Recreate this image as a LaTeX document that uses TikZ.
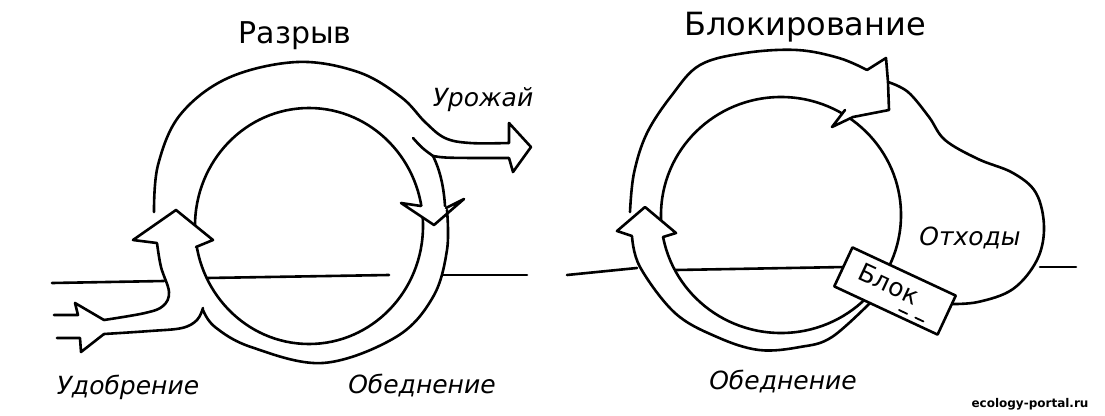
\documentclass[tikz,border=0pt]{standalone}
\usepackage{fontspec}
\setmainfont{DejaVu Sans}
\begin{document}
\begin{tikzpicture}[x=1pt,y=-1pt, line width=2.6pt, line join=round, line cap=round,
  head/.style={fill=white, draw=black},
  ttl/.style={font=\fontsize{30}{36}\selectfont},
  ttlb/.style={font=\fontsize{32}{38}\selectfont},
  lbl/.style={font=\itshape\fontsize{25}{30}\selectfont},
  blokbox/.style={draw, fill=white, rotate=-25, minimum width=114, minimum height=43, inner sep=0pt},
  bloktext/.style={rotate=-25, inner sep=0pt, font=\fontsize{25}{28}\selectfont}]
\useasboundingbox (0,0) rectangle (1105,415);

% ---------- left diagram: Razryv ----------
\draw (52,283) -- (164,281);
\draw (207,278) -- (389,275);
\draw (443,275) -- (527,275);
\draw (309,226) ellipse [x radius=114, y radius=118];
% upper band outer edge -> harvest arrow
\draw plot[smooth,tension=0.6] coordinates {(154,212) (158,165) (180,115) (228,78) (297,62) (358,72) (401,97) (425,122) (445,138) (470,143) (509,143)};
\draw (413,138) .. controls (422,148) .. (433,156);
\draw (433,156) .. controls (445,158) .. (509,158);
\draw (433,156) .. controls (441,172) and (444,190) .. (445,206);
\filldraw[head] (509,143) -- (509,123) -- (531,147) -- (513,172) -- (509,158);
% down arrow on the right
\filldraw[head] (421,206) -- (401,203) -- (434,225) -- (464,199) -- (446,208);
% lower band outer edge
\draw plot[smooth,tension=0.6] coordinates {(447,210) (447,250) (433,297) (396,337) (323,363) (251,347) (215,327) (203,310)};
% fertiliser input
\draw plot[smooth,tension=0.6] coordinates {(157,243) (161,267) (169,292) (163,306) (145,313) (104,320)};
\draw plot[smooth,tension=0.6] coordinates {(104,334) (150,331) (182,328) (197,320) (203,308)};
\draw (104,320) -- (75,303) -- (78,315) -- (54,315);
\draw (104,334) -- (81,352) -- (80,338) -- (57,338);
\filldraw[head] (157,243) -- (133,240) -- (176,210) -- (213,240) -- (196,247);

% ---------- right diagram: Blokirovanie ----------
\draw (567,275) -- (637,268);
\draw (676,270) -- (845,267);
\draw (1040,267) -- (1076,267);
\draw (781,215) ellipse [x radius=120, y radius=118];
\draw plot[smooth,tension=0.6] coordinates {(630,212) (634,173) (647,133) (672,95) (700,65) (745,53) (797,50) (839,58) (867,70)};
\draw plot[smooth,tension=0.6] coordinates {(888,82) (908,92) (929,117) (945,140) (978,159) (1013,173) (1036,193) (1044,227) (1037,260) (1013,289) (978,302) (948,304)};
\filldraw[head] (867,70) -- (886,58) -- (888,82) -- (889,110) -- (853,117) -- (832,127) -- (845,110);
\draw plot[smooth,tension=0.6] coordinates {(632,236) (640,267) (675,313) (717,337) (759,350) (800,347) (832,337) (873,300)};
\filldraw[head] (632,236) -- (617,231) -- (645,207) -- (676,233) -- (663,237);
\node[blokbox] (blok) at (895,291) {};
\node[bloktext] (bloktxt) at (889,284) {Блок};
\draw[line width=1.8pt, dash pattern=on 9pt off 9pt] (899,310) -- (931,325);

% ---------- labels ----------
\node[ttl] (t1) at (295,36) {Разрыв};
\node[ttlb] (t2) at (805,27) {Блокирование};
\node[lbl] (l1) at (483,100) {Урожай};
\node[lbl] (l2) at (128,387) {Удобрение};
\node[lbl] (l3) at (422,386) {Обеднение};
\node[lbl] (l4) at (783,382) {Обеднение};
\node[lbl] (l5) at (970,238) {Отходы};
\node[font=\bfseries\fontsize{12}{14}\selectfont] (wm) at (1030,404) {ecology-portal.ru};
\end{tikzpicture}
\end{document}
